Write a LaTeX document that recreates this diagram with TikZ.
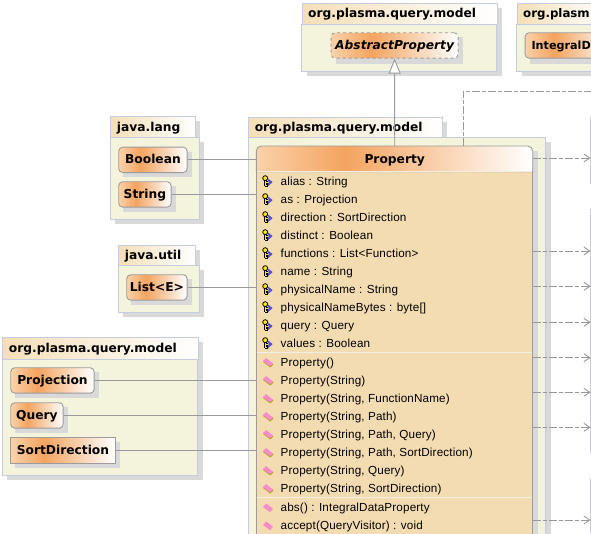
\documentclass[tikz,border=0pt]{standalone}
\usepackage{fontspec}
\setmainfont{Liberation Sans}
\newfontfamily\memfont[LetterSpace=1.2]{Liberation Sans}
\newfontfamily\boldfont{DejaVu Sans}
\usetikzlibrary{arrows.meta,shapes.misc}
\definecolor{pkgline}{HTML}{C5CCE0}
\definecolor{pkgfill}{HTML}{F4F3DB}
\definecolor{tabc}{HTML}{F5DFB8}
\definecolor{shadowc}{HTML}{D9D9D9}
\definecolor{nodeline}{HTML}{9C9C9C}
\definecolor{gradl}{HTML}{FAD2AA}
\definecolor{gradm}{HTML}{F4A460}
\definecolor{bodyc}{HTML}{F4DCB2}
\definecolor{sepc}{HTML}{F3EEE4}
\definecolor{conn}{HTML}{999999}
\pgfdeclarehorizontalshading{nodegrad}{100bp}{color(0bp)=(gradl); color(25bp)=(gradl); color(41bp)=(gradm); color(75bp)=(white); color(100bp)=(white)}
\pgfdeclarehorizontalshading{tabgrad}{100bp}{color(0bp)=(tabc); color(25bp)=(tabc); color(75bp)=(white); color(100bp)=(white)}
\tikzset{
  x=1pt,y=-1pt,
  pkgbody/.style={draw=pkgline,line width=0.9pt,fill=pkgfill},
  tabbox/.style={draw=pkgline,line width=0.9pt,shading=tabgrad,shade,anchor=north west,inner sep=0pt,align=left,text height=9.5pt,text depth=1.5pt,font=\fontsize{12.25}{14}\boldfont\bfseries},
  shadowfill/.style={fill=shadowc,draw=none},
  cls/.style={draw=nodeline,line width=0.9pt,shade,shading=nodegrad,anchor=north west,inner sep=0pt,minimum height=25.4pt,text height=9.5pt,text depth=1.5pt,font=\fontsize{12.25}{14}\boldfont\bfseries},
  rcls/.style={cls,rounded corners=4pt},
  member/.style={anchor=west,inner sep=0pt,text height=8.5pt,text depth=1.5pt,font=\fontsize{11.7}{14}\memfont},
  connector/.style={conn,line width=0.9pt},
  dep/.style={conn,line width=0.9pt,dash pattern=on 8pt off 2pt on 4pt off 2pt},
  keyicon/.pic={
    \begin{scope}[scale=1.12]
    \fill[fill=blue!60!white!80!black] (0,-3.5) -- (5,0.5) -- (0,5) -- (1.5,0.5) -- cycle;
    \draw[black,line width=2.6pt] (-1.6,-2.5) -- (-1.6,4.2) (-1.6,1) -- (0.8,1) (-1.6,3.4) -- (0.6,3.4);
    \draw[yellow!90!orange,line width=1.2pt] (-1.6,-2.5) -- (-1.6,4.2) (-1.6,1) -- (0.6,1) (-1.6,3.4) -- (0.4,3.4);
    \draw[black,fill=yellow!90!orange,line width=0.8pt] (-1.6,-3) circle (2.2);
    \end{scope}
  },
  ctoricon/.pic={
    \fill[fill=olive!70!yellow] (-5,-0.6) -- (-2,-3.6) -- (5.4,2) -- (2.2,5) -- cycle;
    \fill[fill=magenta!45!white] (-5,-1.4) -- (-2,-4.4) -- (5,1) -- (2,4) -- cycle;
  },
  methicon/.pic={
    \fill[fill=magenta!45!white] (-5,-0.6) -- (-1.8,-4) -- (5,1.2) -- (2,4.6) -- cycle;
  },
}
\begin{document}
\begin{tikzpicture}
\useasboundingbox (0,0) rectangle (591,533);
\clip (0,0) rectangle (591,533);
% top package
\fill[shadowfill] (306.7,7.7) rectangle (501.7,76.3);
\draw[pkgbody] (301.7,24) rectangle (496.7,71.3);
\node[tabbox,minimum width=195pt,minimum height=21.3pt,text width=191pt] (tabA) at (301.7,2.7) {\hspace{4pt}org.plasma.query.model};
\fill[shadowfill] (335.7,37.3) rectangle (462.7,63.7);
\node[rcls,dashed,minimum width=127pt,font=\fontsize{12.25}{14}\boldfont\bfseries\itshape] (abstract) at (330.7,32.3) {AbstractProperty};
% second top package
\fill[shadowfill] (521.7,7.7) rectangle (600,76.3);
\draw[pkgbody] (516.7,24) rectangle (600,71.3);
\node[tabbox,minimum width=90pt,minimum height=21.3pt,text width=86pt,font=\fontsize{11.8}{14}\boldfont\bfseries] (tabB) at (516.7,2.7) {\hspace{4pt}org.plasm};
\fill[shadowfill] (529.7,37.3) rectangle (600,63.7);
\node[rcls,minimum width=90pt] (integral) at (524.7,32.3) {};
\node[anchor=west,inner sep=0pt,text height=9.5pt,text depth=1.5pt,font=\fontsize{11.2}{14}\boldfont\bfseries] (integralText) at (531.3,45.5) {IntegralD};
% java.lang
\fill[shadowfill] (115.3,121.3) rectangle (199.7,142);
\fill[shadowfill] (115.3,142) rectangle (204.3,224.3);
\draw[pkgbody] (110.3,137.3) rectangle (199.3,219.3);
\node[tabbox,minimum width=84.4pt,minimum height=21pt,text width=80pt] (tabL) at (110.3,116.3) {\hspace{4pt}java.lang};
\fill[shadowfill] (123.3,151.7) rectangle (191.7,176.7);
\node[rcls,minimum width=68.4pt] (boolean) at (118.3,146.7) {Boolean};
\fill[shadowfill] (123.3,186.3) rectangle (175.7,211.7);
\node[rcls,minimum width=52.4pt] (string) at (118.3,181.3) {String};
% java.util
\fill[shadowfill] (123.3,249.7) rectangle (199.7,270);
\fill[shadowfill] (123.3,270) rectangle (204.3,317.3);
\draw[pkgbody] (118.3,265.3) rectangle (199.3,312.3);
\node[tabbox,minimum width=76.4pt,minimum height=20.6pt,text width=72pt] (tabU) at (118.3,244.7) {\hspace{4pt}java.util};
\fill[shadowfill] (131.3,279.3) rectangle (191.7,304.7);
\node[rcls,minimum width=60.4pt] (list) at (126.3,274.3) {List<E>};
% lower left package
\fill[shadowfill] (7.3,342.3) rectangle (202.7,480.3);
\draw[pkgbody] (2.3,358.7) rectangle (197.7,475.3);
\node[tabbox,minimum width=195.4pt,minimum height=21.4pt,text width=191pt] (tabM) at (2.3,337.3) {\hspace{4pt}org.plasma.query.model};
\fill[shadowfill] (15.3,372.3) rectangle (98.7,397.7);
\node[rcls,minimum width=83.4pt] (projection) at (10.3,367.3) {Projection};
\fill[shadowfill] (15.3,407.3) rectangle (67.7,432.7);
\node[rcls,minimum width=52.4pt] (query) at (10.3,402.3) {Query};
\fill[shadowfill] (15.3,442.3) rectangle (119.7,467.7);
\node[cls,minimum width=104.4pt] (sortdir) at (10.3,437.3) {SortDirection};
% main package
\fill[shadowfill] (253.3,121.7) rectangle (447.3,142);
\fill[shadowfill] (253.3,142) rectangle (550.7,560);
\draw[pkgbody] (248.3,137.3) rectangle (545.7,560);
\node[tabbox,minimum width=194pt,minimum height=20.6pt,text width=190pt] (tabP) at (248.3,116.7) {\hspace{4pt}org.plasma.query.model};
% class
\fill[shadowfill] (261.3,151) rectangle (537.7,560);
\draw[draw=nodeline,line width=0.9pt,fill=bodyc] (256.3,165) rectangle (532.7,560);
\path[draw=nodeline,line width=0.9pt,shade,shading=nodegrad] (256.3,171.7) {[rounded corners=5pt] -- (256.3,146) -- (532.7,146)} -- (532.7,171.7) -- cycle;
\node[anchor=north west,inner sep=0pt,minimum width=276.4pt,minimum height=25.7pt,text height=9.5pt,text depth=1.5pt,font=\fontsize{12.25}{14}\boldfont\bfseries] (property) at (256.3,146) {Property};
\coordinate (classL) at (256.3,300);
\coordinate (classR) at (532.7,300);
\draw[sepc,line width=0.9pt] (256.8,171.8) -- (532.2,171.8);
\draw[sepc,line width=0.9pt] (256.8,352.3) -- (532.2,352.3);
\draw[sepc,line width=0.9pt] (256.8,497.3) -- (532.2,497.3);
% fields
\foreach \t [count=\i from 0] in {alias : String,as : Projection,direction : SortDirection,distinct : Boolean,functions : List<Function>,name : String,physicalName : String,physicalNameBytes : byte[],query : Query,values : Boolean}{
  \pic at (267,181.5+18*\i) {keyicon};
  \node[member] (field\i) at (280.5,182+18*\i) {\t};
}
% constructors
\foreach \t [count=\i from 0] in {Property(),Property(String),{Property(String, FunctionName)},{Property(String, Path)},{Property(String, Path, Query)},{Property(String, Path, SortDirection)},{Property(String, Query)},{Property(String, SortDirection)}}{
  \pic at (268,362.5+18*\i) {ctoricon};
  \node[member] (ctor\i) at (280.5,363+18*\i) {\t};
}
% methods
\foreach \t [count=\i from 0] in {abs() : IntegralDataProperty,accept(QueryVisitor) : void}{
  \pic at (268,507.5+18*\i) {methicon};
  \node[member] (meth\i) at (280.5,508+18*\i) {\t};
}
% right-hand neighbours
\draw[pkgline,line width=0.9pt] (590.4,116.7) -- (590.4,184) (590.4,209) -- (590.4,453) (590.4,478) -- (590.4,533);
% connectors
\draw[connector] (boolean.east) -- (boolean.east -| classL);
\draw[connector] (string.east) -- (string.east -| classL);
\draw[connector] (list.east) -- (list.east -| classL);
\draw[connector] (projection.east) -- (projection.east -| classL);
\draw[connector] (query.east) -- (query.east -| classL);
\draw[connector] (sortdir.east) -- (sortdir.east -| classL);
\draw[connector,-{Triangle[open,fill=white,length=15pt,width=12pt]}] (property.north) -- (abstract.south);
% dashed
\coordinate (exitTop) at (600,91);
\draw[dep] (463.3,146) coordinate (depS) |- (exitTop);
\foreach \n/\y in {a/158,b/251,c/286.3,d/322.3,e/357.7,f/392.3,g/427.3,h/520}{
  \coordinate (dep\n) at (590.6,\y);
  \draw[dep,-{Straight Barb[length=6pt,width=8pt,line width=0.9pt]}] (classR |- dep\n) -- (dep\n);
}
\end{tikzpicture}
\end{document}
